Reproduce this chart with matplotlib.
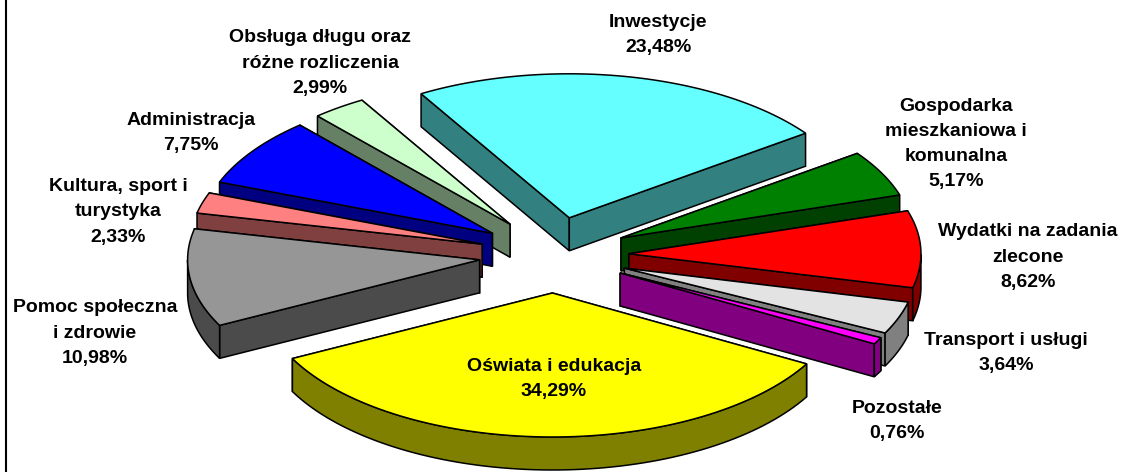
import numpy as np
import matplotlib
matplotlib.use('Agg')
import matplotlib.pyplot as plt
from matplotlib.patches import Polygon

names = ["Inwestycje", "Gospodarka\nmieszkaniowa i\nkomunalna", "Wydatki na zadania\nzlecone",
         "Transport i usługi", "Pozostałe", "Oświata i edukacja", "Pomoc społeczna\ni zdrowie",
         "Kultura, sport i\nturystyka", "Administracja", "Obsługa długu oraz\nróżne rozliczenia"]
shares = [23.48, 5.17, 8.62, 3.64, 0.76, 34.29, 10.98, 2.33, 7.75, 2.99]
share_labels = ["23,48%", "5,17%", "8,62%", "3,64%", "0,76%", "34,29%", "10,98%", "2,33%", "7,75%", "2,99%"]
top_colors = ["#66FFFF", "#008000", "#FF0000", "#E3E3E3", "#FF00FF", "#FFFF00", "#969696", "#FF8080", "#0000FF", "#CCFFCC"]
side_colors = ["#338080", "#004000", "#800000", "#808080", "#800080", "#808000", "#4B4B4B", "#804040", "#000080", "#668066"]
label_pos = [(658, 35), (956, 144), (1028, 257), (1006, 353), (897, 421), (554, 379), (95, 333), (118, 212), (191, 133), (320, 63)]

# pie geometry in pixels
cx, cy = 554, 255
rx, ry = 292, 144
depth = 33
explode_x, explode_y = 75, 38
start = -30.5

plt.rcParams['font.family'] = ['Liberation Sans', 'DejaVu Sans']
fig = plt.figure(figsize=(11.23, 4.72), dpi=100)
ax = fig.add_axes([0, 0, 1, 1])
ax.set_xlim(0, 1123)
ax.set_ylim(472, 0)
ax.axis('off')

# only the left edge of the frame is in the picture
ax.plot([6, 6], [0, 472], color='black', lw=1.5)

shares_arr = np.array(shares)
angles = start + np.concatenate([[0], np.cumsum(shares_arr)]) / shares_arr.sum() * 360
mids = (angles[:-1] + angles[1:]) / 2

# back slices first, so the front ones cover them
order = np.argsort(-np.cos(np.radians(mids)))
for i in order:
    a0, a1, mid = angles[i], angles[i + 1], np.radians(mids[i])
    ox = cx + explode_x * np.sin(mid)
    oy = cy - explode_y * np.cos(mid)
    t = np.radians(np.linspace(a0, a1, 80))
    xs = ox + rx * np.sin(t)
    ys = oy - ry * np.cos(t)
    # radial faces, the one further back first
    ends = sorted([(ys[0], xs[0]), (ys[-1], xs[-1])])
    for y, x in ends:
        ax.add_patch(Polygon([(ox, oy), (x, y), (x, y + depth), (ox, oy + depth)],
                             fc=side_colors[i], ec='black', lw=1.1))
    # outer wall, only the part that faces the viewer
    front = np.cos(t) < 0
    if front.any():
        wx, wy = xs[front], ys[front]
        ax.add_patch(Polygon(np.r_[np.c_[wx, wy], np.c_[wx[::-1], wy[::-1] + depth]],
                             fc=side_colors[i], ec='black', lw=1.1))
    ax.add_patch(Polygon(np.r_[[(ox, oy)], np.c_[xs, ys]], fc=top_colors[i], ec='black', lw=1.1))

for name, share, (x, y) in zip(names, share_labels, label_pos):
    ax.text(x, y, name + "\n" + share, ha='center', va='center', fontsize=14,
            fontweight='bold', linespacing=1.63, color='black')

fig.savefig('out.png', dpi=100)
